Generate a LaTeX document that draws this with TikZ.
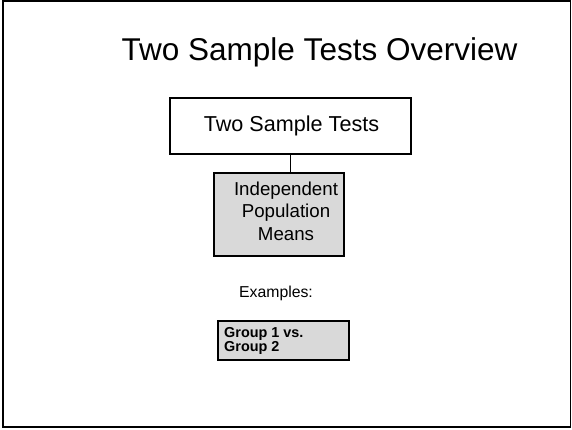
\documentclass[tikz,border=0pt]{standalone}
\usepackage{fontspec}
\setmainfont{Liberation Sans}
\begin{document}
\begin{tikzpicture}[x=1pt,y=-1pt,
  frame/.style={draw=black,line width=1.6pt},
  plainbox/.style={draw=black,line width=1.6pt,fill=white},
  shadedbox/.style={draw=black,line width=1.6pt,fill=black!15},
  label/.style={inner sep=0pt,anchor=base}]
  \useasboundingbox (0,0) rectangle (572,429);
  % slide border
  \draw[frame] (3,1) rectangle (570.5,427);
  % title
  \node[label,font=\fontsize{31.5}{36}\selectfont] (title) at (319.5,60) {Two Sample Tests Overview};
  % top box
  \draw[plainbox] (170,98) rectangle (411,154) node[midway,inner sep=0pt] (box1) {};
  \coordinate (b1s) at (290.5,154);
  \node[label,font=\fontsize{21.6}{26}\selectfont] (t1) at (291.5,131) {Two Sample Tests};
  % second box
  \node[shadedbox,minimum width=130pt,minimum height=83pt,inner sep=0pt] (box2) at (279,214.5) {};
  \node[label,align=center,font=\fontsize{18.7}{22.5}\selectfont] (t2) at (286,240) {Independent\\Population\\Means};
  \draw[line width=1.6pt] (b1s) -- (b1s |- box2.north);
  % examples
  \node[label,font=\fontsize{15.8}{19}\selectfont] (ex) at (276,297) {Examples:};
  \node[shadedbox,minimum width=131pt,minimum height=39pt,inner sep=0pt] (box3) at (283.5,340.5) {};
  \node[label,anchor=base west,align=left,font=\bfseries\fontsize{14.4}{14}\selectfont] (t3) at (224,351) {Group 1 vs.\\Group 2};
\end{tikzpicture}
\end{document}
